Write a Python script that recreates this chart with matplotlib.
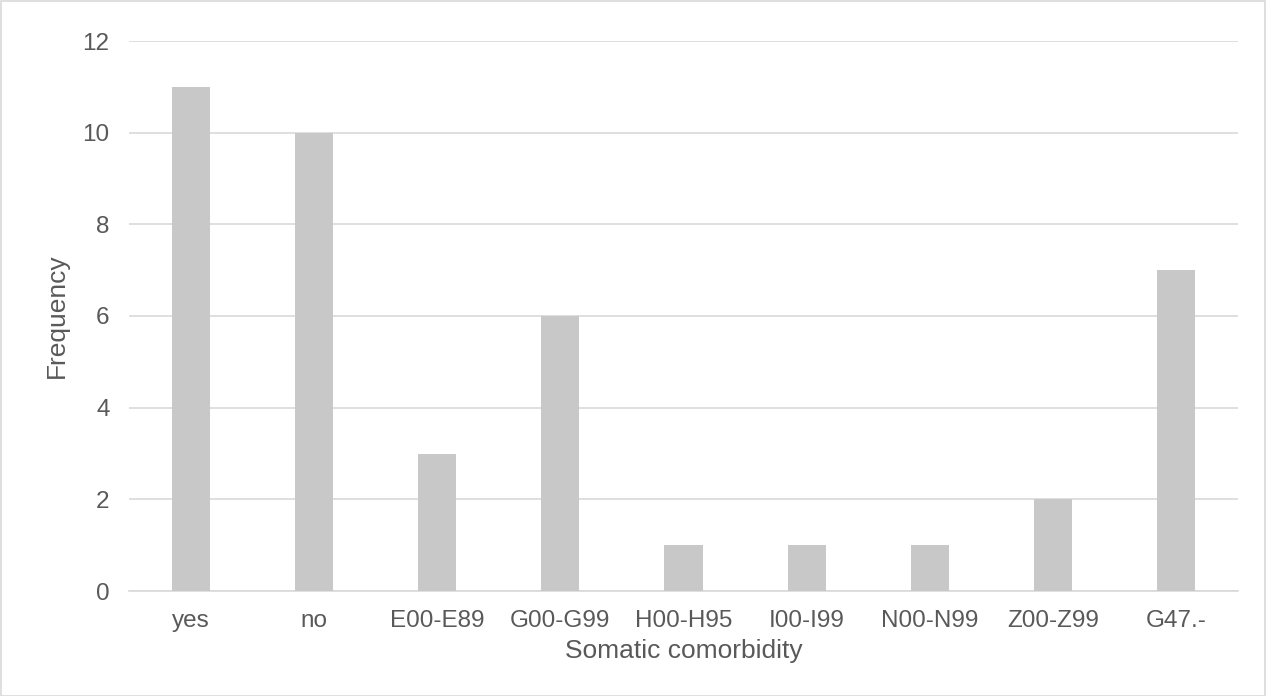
import matplotlib
matplotlib.use("Agg")
import matplotlib.pyplot as plt
from matplotlib.patches import Rectangle

categories = ["yes", "no", "E00-E89", "G00-G99", "H00-H95", "I00-I99", "N00-N99", "Z00-Z99", "G47.-"]
values = [11, 10, 3, 6, 1, 1, 1, 2, 7]
yticks = [0, 2, 4, 6, 8, 10, 12]

plt.rcParams['font.family'] = ['Liberation Sans', 'DejaVu Sans']

fig = plt.figure(figsize=(12.66, 6.96), dpi=100)
ax = fig.add_axes([129/1266, 1-591/696, 1109/1266, 550/696])

x = list(range(len(categories)))
ax.bar(x, values, width=0.31, color="#C8C8C8", zorder=3)
ax.set_xlim(-0.5, len(categories)-0.5)
ax.set_ylim(0, 12)
ax.set_yticks(yticks)
ax.set_xticks(x)
ax.set_xticklabels(categories)
ax.grid(axis='y', color="#D9D9D9", linewidth=1.2, zorder=0)
for s in ["top", "right", "left"]:
    ax.spines[s].set_visible(False)
ax.spines["bottom"].set_color("#D9D9D9")
ax.spines["bottom"].set_linewidth(1.2)
ax.tick_params(axis='both', length=0, labelsize=17.5, labelcolor="#595959")
ax.tick_params(axis='x', pad=14)
ax.tick_params(axis='y', pad=14)
ax.set_xlabel("Somatic comorbidity", fontsize=19, color="#595959", labelpad=5)
ax.set_ylabel("Frequency", fontsize=19, color="#595959", labelpad=10)

fig.patches.append(Rectangle((0.5/1266, 0.5/696), 1-1.5/1266, 1-1.5/696, transform=fig.transFigure,
                             fill=False, edgecolor="#D9D9D9", linewidth=1.2))

fig.savefig("out.png", dpi=100)
